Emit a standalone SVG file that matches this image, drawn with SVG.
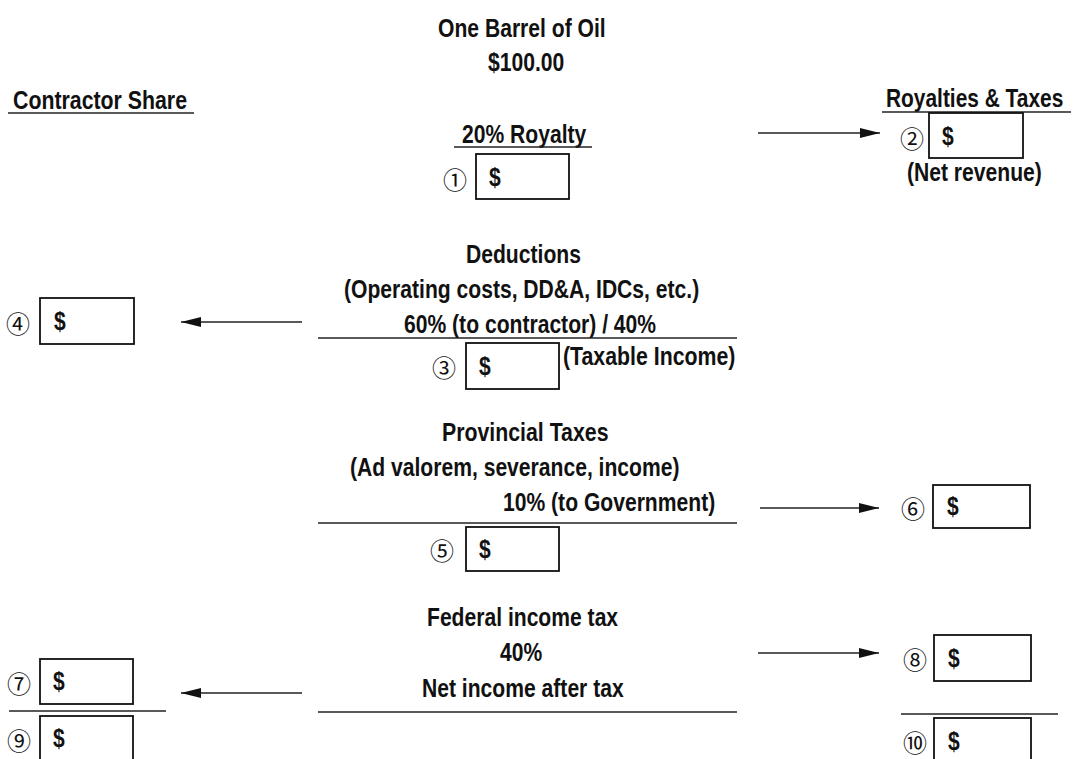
<svg xmlns="http://www.w3.org/2000/svg" width="1075" height="759" viewBox="0 0 1075 759">
<defs>
<style>
.t{font-family:"Liberation Sans Narrow","Liberation Sans",Arial,sans-serif;font-weight:bold;font-size:25px;fill:#111}
.n{font-family:"Noto Sans CJK JP","DejaVu Sans",sans-serif;font-size:24px;fill:#111;text-anchor:middle;dominant-baseline:central}
.b{fill:#fff;stroke:#111;stroke-width:1.8}
.l{stroke:#222;stroke-width:1.6;fill:none}
</style>
<marker id="ah" viewBox="0 0 20 10" refX="20" refY="5" markerWidth="20" markerHeight="10" markerUnits="userSpaceOnUse" orient="auto"><path d="M0,0 L20,5 L0,10 Z" fill="#111"/></marker>
</defs>
<rect width="1075" height="759" fill="#fff"/>

<g id="title">
<text class="t" x="438" y="37" textLength="167.7" lengthAdjust="spacingAndGlyphs">One Barrel of Oil</text>
<text class="t" x="488" y="71" textLength="76.3" lengthAdjust="spacingAndGlyphs">$100.00</text>
</g>

<g id="contractor-share">
<text class="t" x="13" y="109" textLength="174" lengthAdjust="spacingAndGlyphs">Contractor Share</text>
<line class="l" x1="8" y1="113" x2="194" y2="113"/>
</g>

<g id="royalties-taxes">
<text class="t" transform="translate(886,107) scale(0.836,1)" x="0" y="0">Royalties &amp; Taxes</text>
<line class="l" x1="882" y1="112" x2="1071" y2="112"/>
</g>

<g id="royalty">
<text class="t" x="462" y="143" textLength="124.3" lengthAdjust="spacingAndGlyphs">20% Royalty</text>
<line class="l" x1="454" y1="147" x2="592" y2="147"/>
</g>

<g id="n1">
<text class="n" x="455" y="178">①</text>
<rect class="b" x="476" y="154" width="93" height="45"/>
<text class="t" x="489" y="186" textLength="11.7" lengthAdjust="spacingAndGlyphs">$</text>
</g>

<g id="n2">
<text class="n" x="912" y="137">②</text>
<rect class="b" x="929" y="113" width="94" height="45"/>
<text class="t" x="942" y="145" textLength="11.7" lengthAdjust="spacingAndGlyphs">$</text>
<text class="t" x="907" y="181" textLength="134.8" lengthAdjust="spacingAndGlyphs">(Net revenue)</text>
</g>

<g id="deductions">
<text class="t" x="466" y="263" textLength="114.9" lengthAdjust="spacingAndGlyphs">Deductions</text>
<text class="t" x="344" y="298" textLength="355.2" lengthAdjust="spacingAndGlyphs">(Operating costs, DD&amp;A, IDCs, etc.)</text>
<text class="t" x="404" y="333" textLength="252.1" lengthAdjust="spacingAndGlyphs">60% (to contractor) / 40%</text>
<line class="l" x1="318" y1="338" x2="737" y2="338"/>
</g>

<g id="n3">
<text class="n" x="444" y="366">③</text>
<rect class="b" x="466" y="343" width="93" height="46"/>
<text class="t" x="479" y="375" textLength="11.7" lengthAdjust="spacingAndGlyphs">$</text>
<text class="t" x="563" y="365" textLength="172.4" lengthAdjust="spacingAndGlyphs">(Taxable Income)</text>
</g>

<g id="n4">
<text class="n" x="18" y="322">④</text>
<rect class="b" x="40" y="298" width="94" height="46"/>
<text class="t" x="54" y="330" textLength="11.7" lengthAdjust="spacingAndGlyphs">$</text>
</g>

<g id="provincial">
<text class="t" x="442" y="441" textLength="166.5" lengthAdjust="spacingAndGlyphs">Provincial Taxes</text>
<text class="t" x="350" y="476" textLength="329.5" lengthAdjust="spacingAndGlyphs">(Ad valorem, severance, income)</text>
<text class="t" x="503" y="511" textLength="212.2" lengthAdjust="spacingAndGlyphs">10% (to Government)</text>
<line class="l" x1="318" y1="523" x2="737" y2="523"/>
</g>

<g id="n5">
<text class="n" x="442" y="549">⑤</text>
<rect class="b" x="466" y="527" width="93" height="44"/>
<text class="t" x="479" y="558" textLength="11.7" lengthAdjust="spacingAndGlyphs">$</text>
</g>

<g id="n6">
<text class="n" x="913" y="507">⑥</text>
<rect class="b" x="933" y="485" width="97" height="43"/>
<text class="t" x="947" y="515" textLength="11.7" lengthAdjust="spacingAndGlyphs">$</text>
</g>

<g id="federal">
<text class="t" x="427" y="626" textLength="191.1" lengthAdjust="spacingAndGlyphs">Federal income tax</text>
<text class="t" x="500" y="661" textLength="42.2" lengthAdjust="spacingAndGlyphs">40%</text>
<text class="t" x="422" y="697" textLength="201.7" lengthAdjust="spacingAndGlyphs">Net income after tax</text>
<line class="l" x1="318" y1="712" x2="737" y2="712"/>
</g>

<g id="n7">
<text class="n" x="19" y="682">⑦</text>
<rect class="b" x="40" y="659" width="93" height="45"/>
<text class="t" x="53" y="690" textLength="11.7" lengthAdjust="spacingAndGlyphs">$</text>
</g>

<line class="l" x1="9" y1="711" x2="166" y2="711"/>

<g id="n9">
<text class="n" x="19" y="739">⑨</text>
<rect class="b" x="40" y="716" width="93" height="50"/>
<text class="t" x="53" y="747" textLength="11.7" lengthAdjust="spacingAndGlyphs">$</text>
</g>

<g id="n8">
<text class="n" x="915" y="658">⑧</text>
<rect class="b" x="934" y="635" width="97" height="46"/>
<text class="t" x="948" y="667" textLength="11.7" lengthAdjust="spacingAndGlyphs">$</text>
</g>

<line class="l" x1="901" y1="714" x2="1058" y2="714"/>

<g id="n10">
<text class="n" x="915" y="741">⑩</text>
<rect class="b" x="934" y="718" width="97" height="50"/>
<text class="t" x="948" y="750" textLength="11.7" lengthAdjust="spacingAndGlyphs">$</text>
</g>

<g id="connectors">
<line class="l" x1="758" y1="133" x2="880" y2="133" marker-end="url(#ah)"/>
<line class="l" x1="302" y1="322" x2="181" y2="322" marker-end="url(#ah)"/>
<line class="l" x1="760" y1="508" x2="879" y2="508" marker-end="url(#ah)"/>
<line class="l" x1="758" y1="653" x2="879" y2="653" marker-end="url(#ah)"/>
<line class="l" x1="302" y1="693" x2="181" y2="693" marker-end="url(#ah)"/>
</g>
</svg>
